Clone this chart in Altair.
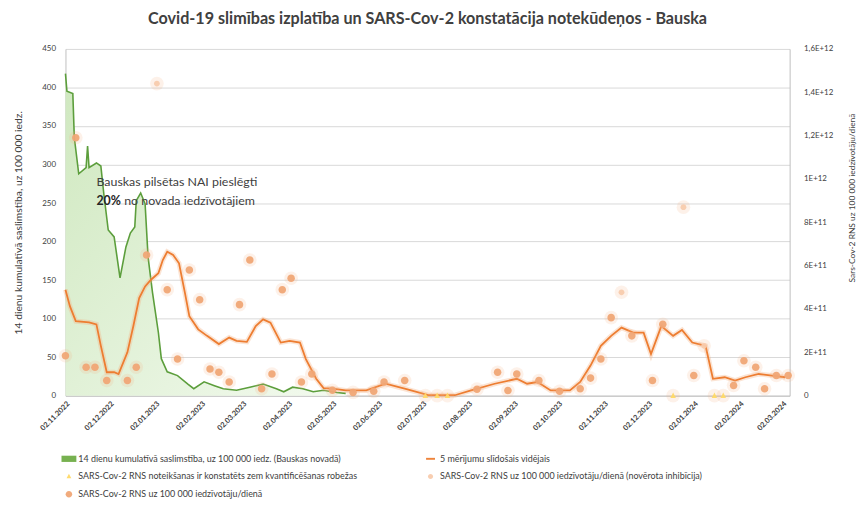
import altair as alt
import pandas as pd

TITLE = "Covid-19 slimības izplatība un SARS-Cov-2 konstatācija notekūdeņos - Bauska"
Y_LEFT_TITLE = "14 dienu kumulatīvā saslimstība, uz 100 000 iedz."
Y_RIGHT_TITLE = "Sars-Cov-2 RNS uz 100 000 iedzīvotāju/dienā"
NOTE_1 = "Bauskas pilsētas NAI pieslēgti"
NOTE_2A = "20%"
NOTE_2B = "no novada iedzīvotājiem"

SERIES = [
    "14 dienu kumulatīvā saslimstība, uz 100 000 iedz. (Bauskas novadā)",
    "5 mērījumu slīdošais vidējais",
    "SARS-Cov-2 RNS noteikšanas ir konstatēts zem kvantificēšanas robežas",
    "SARS-Cov-2 RNS uz 100 000 iedzīvotāju/dienā (novērota inhibīcija)",
    "SARS-Cov-2 RNS uz 100 000 iedzīvotāju/dienā",
]

# 14-day cumulative incidence (left axis)
green_dates = ["2022-11-02", "2022-11-03", "2022-11-07", "2022-11-08", "2022-11-11", "2022-11-16",
               "2022-11-17", "2022-11-18", "2022-11-23", "2022-11-26", "2022-11-28", "2022-12-01",
               "2022-12-05", "2022-12-09", "2022-12-13", "2022-12-16", "2022-12-19", "2022-12-20",
               "2022-12-23", "2022-12-26", "2022-12-28", "2022-12-31", "2023-01-04", "2023-01-06",
               "2023-01-10", "2023-01-17", "2023-01-24", "2023-01-28", "2023-02-04", "2023-02-11",
               "2023-02-17", "2023-02-26", "2023-03-07", "2023-03-16", "2023-03-25", "2023-03-30",
               "2023-04-05", "2023-04-12", "2023-04-19", "2023-04-26", "2023-05-05", "2023-05-11"]
green_vals = [418, 395, 392, 335, 288, 296,
              324, 296, 302, 298, 262, 215,
              206, 153, 193, 211, 219, 253,
              263, 249, 180, 134, 82, 48,
              31, 26, 15, 9, 18, 13,
              9, 7, 11, 15, 9, 5,
              11, 9, 5, 7, 4, 3]

# 5-measurement moving average (right axis, units of 1E+11)
avg_dates = ["2022-11-02", "2022-11-05", "2022-11-09", "2022-11-18", "2022-11-23", "2022-11-26",
             "2022-11-30", "2022-12-05", "2022-12-08", "2022-12-14", "2022-12-18", "2022-12-22",
             "2022-12-26", "2022-12-30", "2023-01-04", "2023-01-07", "2023-01-10", "2023-01-14",
             "2023-01-18", "2023-01-22", "2023-01-25", "2023-01-31", "2023-02-06", "2023-02-14",
             "2023-02-21", "2023-02-26", "2023-03-05", "2023-03-11", "2023-03-16", "2023-03-21",
             "2023-03-28", "2023-04-03", "2023-04-10", "2023-04-14", "2023-04-21", "2023-04-26",
             "2023-05-02", "2023-05-11", "2023-05-25", "2023-06-07", "2023-06-20", "2023-07-06",
             "2023-07-24", "2023-08-04", "2023-08-20", "2023-09-04", "2023-09-11", "2023-09-18",
             "2023-09-27", "2023-10-10", "2023-10-17", "2023-10-24", "2023-10-31", "2023-11-07",
             "2023-11-14", "2023-11-22", "2023-11-29", "2023-12-04", "2023-12-11", "2023-12-19",
             "2023-12-25", "2024-01-01", "2024-01-10", "2024-01-15", "2024-01-23", "2024-01-30",
             "2024-02-06", "2024-02-15", "2024-02-24", "2024-03-04"]
avg_vals = [4.89, 4.13, 3.44, 3.38, 3.29, 2.30,
            1.08, 1.08, 1.00, 2.00, 3.20, 4.50,
            5.04, 5.35, 5.65, 6.26, 6.64, 6.49,
            6.11, 4.74, 3.67, 3.06, 2.76, 2.38,
            2.68, 2.53, 2.48, 3.21, 3.52, 3.37,
            2.45, 2.53, 2.45, 1.69, 0.78, 0.35,
            0.32, 0.24, 0.24, 0.55, 0.32, 0.02,
            0.02, 0.24, 0.55, 0.78, 0.55, 0.63,
            0.24, 0.24, 0.63, 1.39, 2.30, 2.76,
            3.14, 2.91, 2.91, 1.92, 3.21, 2.76,
            3.03, 2.45, 2.30, 0.78, 0.85, 0.70,
            0.85, 1.00, 0.93, 0.85]

# SARS-Cov-2 RNA per 100 000 inhabitants per day (units of 1E+11)
rns_dates = ["2022-11-02", "2022-11-09", "2022-11-16", "2022-11-22", "2022-11-30", "2022-12-14",
             "2022-12-20", "2022-12-27", "2023-01-10", "2023-01-17", "2023-01-25", "2023-02-01",
             "2023-02-08", "2023-02-14", "2023-02-21", "2023-02-28", "2023-03-07", "2023-03-15",
             "2023-03-22", "2023-03-29", "2023-04-04", "2023-04-11", "2023-04-18", "2023-05-02",
             "2023-05-16", "2023-05-30", "2023-06-06", "2023-06-20", "2023-08-08", "2023-08-22",
             "2023-08-29", "2023-09-04", "2023-09-19", "2023-10-03", "2023-10-17", "2023-10-24",
             "2023-10-31", "2023-11-07", "2023-11-21", "2023-12-05", "2023-12-12", "2024-01-02",
             "2024-01-29", "2024-02-05", "2024-02-13", "2024-02-19", "2024-02-27", "2024-03-06"]
rns_vals = [1.84, 11.9, 1.31, 1.31, 0.70, 0.70,
            1.31, 6.49, 4.89, 1.69, 5.80, 4.43,
            1.23, 1.08, 0.63, 4.20, 6.26, 0.32,
            1.00, 4.89, 5.42, 0.63, 1.00, 0.25,
            0.15, 0.20, 0.63, 0.70, 0.30, 1.08,
            0.24, 1.00, 0.70, 0.20, 0.32, 0.81,
            1.69, 3.60, 2.76, 0.70, 3.29, 0.93,
            0.47, 1.61, 1.31, 0.32, 0.93, 0.93]

# samples with observed inhibition (units of 1E+11)
inh_dates = ["2023-01-03", "2023-11-14", "2023-12-26", "2024-01-09"]
inh_vals = [14.4, 4.77, 8.70, 2.30]

# below limit of quantification (plotted at 0)
loq_dates = ["2023-07-04", "2023-07-12", "2023-07-19", "2023-12-19", "2024-01-16", "2024-01-22"]

x_ticks = ["2022-11-02", "2022-12-02", "2023-01-02", "2023-02-02", "2023-03-02", "2023-04-02",
           "2023-05-02", "2023-06-02", "2023-07-02", "2023-08-02", "2023-09-02", "2023-10-02",
           "2023-11-02", "2023-12-02", "2024-01-02", "2024-02-02", "2024-03-02"]
left_ticks = [0, 50, 100, 150, 200, 250, 300, 350, 400, 450]
right_ticks = [0, 2e11, 4e11, 6e11, 8e11, 1e12, 1.2e12, 1.4e12, 1.6e12]

FONT = "Lato"


def dt(s):
    y, m, d = (int(p) for p in s.split("-"))
    return alt.DateTime(year=y, month=m, date=d, utc=True)


green_df = pd.DataFrame({"date": green_dates, "v": green_vals})
avg_df = pd.DataFrame({"date": avg_dates, "v": [v * 1e11 for v in avg_vals]})
pts_df = pd.concat([
    pd.DataFrame({"date": rns_dates, "v": [v * 1e11 for v in rns_vals], "s": SERIES[4]}),
    pd.DataFrame({"date": inh_dates, "v": [v * 1e11 for v in inh_vals], "s": SERIES[3]}),
    pd.DataFrame({"date": loq_dates, "v": [0.0] * len(loq_dates), "s": SERIES[2]}),
], ignore_index=True)
note_df = pd.DataFrame({"date": ["2022-11-23"], "v1": [277], "v2": [253]})

x_enc = alt.X(
    "date:T",
    scale=alt.Scale(type="utc", domain=[dt("2022-11-02"), dt("2024-03-07")], nice=False),
    axis=alt.Axis(values=[dt(s) for s in x_ticks], format="%d.%m.%Y", labelAngle=-45,
                  labelFontSize=7.5, labelFontWeight="bold", labelColor="#404040",
                  domainColor="#bfbfbf", ticks=False, grid=False, title=None, labelPadding=4,
                  labelOverlap=False),
)

y_left_scale = alt.Scale(domain=[0, 450], nice=False)
y_left_axis = alt.Axis(values=left_ticks, grid=True, gridColor="#d9d9d9", ticks=False,
                       domainColor="#bfbfbf", labelFontSize=8, labelColor="#404040",
                       labelPadding=10, title=Y_LEFT_TITLE, titleFontSize=10.4,
                       titleFontWeight="normal", titleColor="#404040", titlePadding=18)

area = alt.Chart(green_df).mark_area(
    line=False,
    color=alt.Gradient(gradient="linear", x1=0, x2=1, y1=0, y2=1,
                       stops=[alt.GradientStop(color="#cfe8bf", offset=0),
                              alt.GradientStop(color="#f3faef", offset=1)]),
).encode(x=x_enc, y=alt.Y("v:Q", scale=y_left_scale, axis=y_left_axis))

gline = alt.Chart(green_df).mark_line(color="#5c9e3c", strokeWidth=1.6).encode(
    x=x_enc, y=alt.Y("v:Q", scale=y_left_scale, axis=y_left_axis))

NOTE_SIZE = 12.5
note1 = alt.Chart(note_df).mark_text(text=NOTE_1, align="left", baseline="middle",
                                     fontSize=NOTE_SIZE, font=FONT, color="#404040").encode(
    x=alt.X("date:T"), y=alt.Y("v1:Q", scale=y_left_scale, axis=y_left_axis))
note2a = alt.Chart(note_df).mark_text(text=NOTE_2A, align="left", baseline="middle",
                                      fontSize=NOTE_SIZE, font=FONT, fontWeight="bold",
                                      color="#262626").encode(
    x=alt.X("date:T"), y=alt.Y("v2:Q", scale=y_left_scale, axis=y_left_axis))
note2b = alt.Chart(note_df).mark_text(text=NOTE_2B, align="left", baseline="middle",
                                      fontSize=NOTE_SIZE, font=FONT, dx=28, color="#404040").encode(
    x=alt.X("date:T"), y=alt.Y("v2:Q", scale=y_left_scale, axis=y_left_axis))

left = alt.layer(area, gline, note1, note2a, note2b)

y_right_scale = alt.Scale(domain=[0, 1.6e12], nice=False)
right_label = ("datum.value == 0 ? '0' : replace(format(datum.value / pow(10, floor(log(datum.value) / LN10 + 1e-9)), '.2~f'), '.', ',') + 'E+' + floor(log(datum.value) / LN10 + 1e-9)")
y_right_axis = alt.Axis(orient="right", values=right_ticks, grid=False, ticks=False,
                        domainColor="#bfbfbf", labelFontSize=8, labelColor="#404040",
                        labelPadding=14, labelExpr=right_label, title=Y_RIGHT_TITLE,
                        titleFontSize=8.5, titleFontWeight="normal", titleColor="#404040",
                        titleAngle=270, titlePadding=24, titleY=150)

oline_halo = alt.Chart(avg_df).mark_line(color="#f4b183", strokeWidth=5, opacity=0.35).encode(
    x=x_enc, y=alt.Y("v:Q", scale=y_right_scale, axis=y_right_axis))
oline = alt.Chart(avg_df).mark_line(color="#ed7d31", strokeWidth=1.8).encode(
    x=x_enc, y=alt.Y("v:Q", scale=y_right_scale, axis=y_right_axis))

halo = alt.Chart(pts_df).mark_point(filled=True, shape="circle", size=190, opacity=0.18,
                                    color="#f4b183").encode(
    x=x_enc, y=alt.Y("v:Q", scale=y_right_scale, axis=y_right_axis))

shape_range = [
    "M-1,-0.42L1,-0.42L1,0.42L-1,0.42Z",
    "M-0.6,-0.13L0.6,-0.13L0.6,0.13L-0.6,0.13Z",
    "M0,-0.36L0.32,0.26L-0.32,0.26Z",
    "M0.34,0A0.34,0.34,0,1,1,-0.34,0A0.34,0.34,0,1,1,0.34,0Z",
    "M0.44,0A0.44,0.44,0,1,1,-0.44,0A0.44,0.44,0,1,1,0.44,0Z",
]
color_range = ["#70ad47", "#ed7d31", "#ffd966", "#f8cbad", "#f0a676"]

legend = alt.Legend(orient="none", legendX=-4, legendY=406, columns=2, direction="horizontal",
                    title=None, labelFontSize=9, labelColor="#404040", labelLimit=400,
                    symbolSize=225, rowPadding=5, columnPadding=66, labelOffset=2,
                    symbolStrokeWidth=0)

pts = alt.Chart(pts_df).mark_point(filled=True, size=300, opacity=0.95).encode(
    x=x_enc,
    y=alt.Y("v:Q", scale=y_right_scale, axis=y_right_axis),
    color=alt.Color("s:N", scale=alt.Scale(domain=SERIES, range=color_range), legend=legend),
    shape=alt.Shape("s:N", scale=alt.Scale(domain=SERIES, range=shape_range), legend=legend),
)

right = alt.layer(oline_halo, oline, halo, pts)

chart = alt.layer(left, right).resolve_scale(y="independent").properties(
    width=731, height=350,
    padding={"left": 58, "top": 39, "right": 68, "bottom": 103},
    autosize=alt.AutoSizeParams(type="none"),
    title=alt.TitleParams(text=TITLE, fontSize=16.3, fontWeight="bold", anchor="middle",
                          color="#404040", font=FONT, offset=18),
).configure(font=FONT).configure_view(stroke=None)

chart.save("out.html", embed_options={"renderer": "svg", "actions": False})
